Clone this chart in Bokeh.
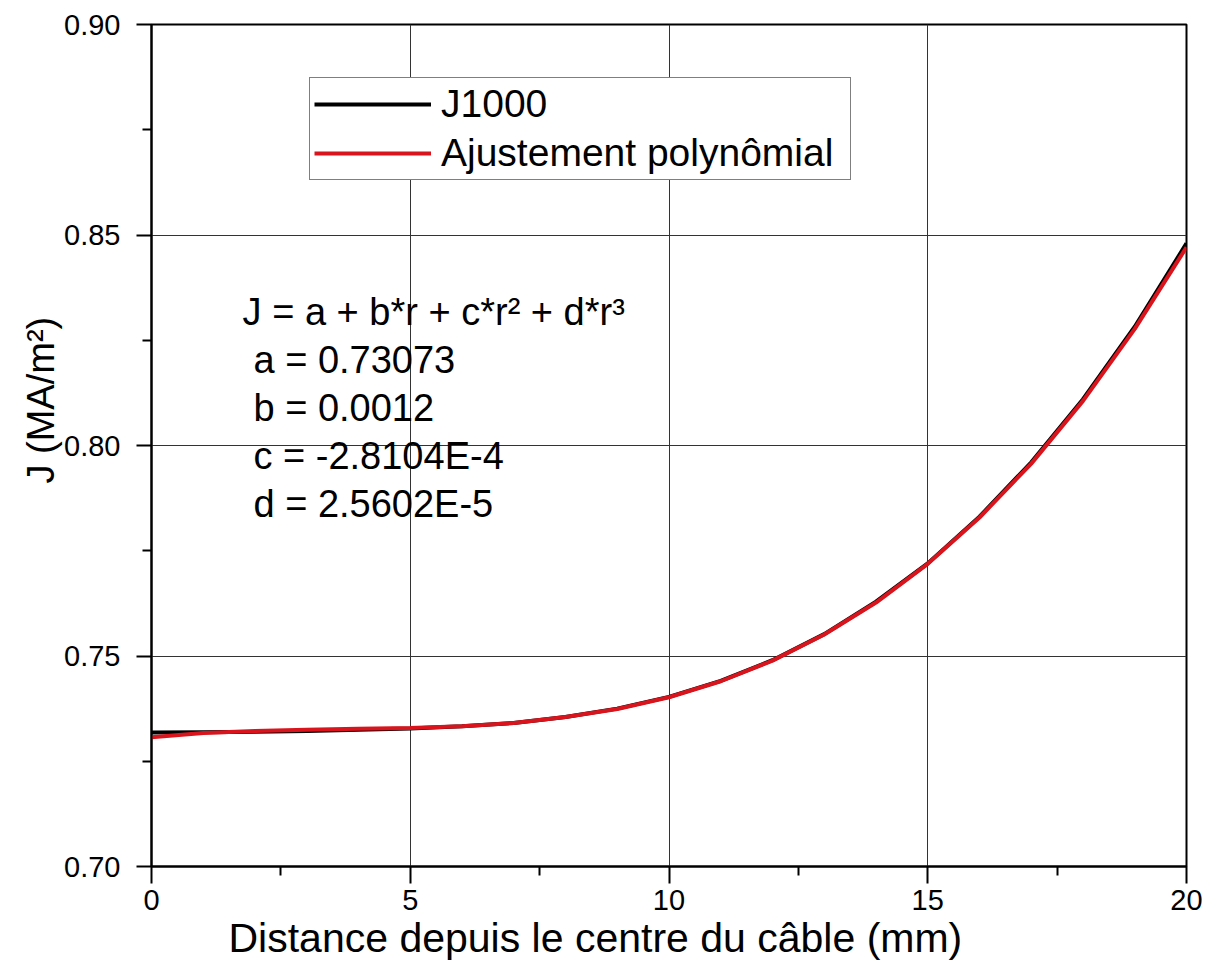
from bokeh.plotting import figure
from bokeh.models import (FixedTicker, NumeralTickFormatter, Legend, LegendItem,
                          Label, Title, Range1d)
from bokeh.embed import file_html
from bokeh.resources import INLINE

# ---------------- data ----------------
r_mm = [0, 1, 2, 3, 4, 5, 6, 7, 8, 9, 10, 11, 12, 13, 14, 15, 16, 17, 18, 19, 20]
j1000 = [0.7318, 0.7319, 0.7320, 0.7322, 0.7325, 0.7328, 0.7333, 0.7341, 0.7355, 0.7375,
         0.7403, 0.7441, 0.7490, 0.7552, 0.7629, 0.7720, 0.7831, 0.7960, 0.8110, 0.8282,
         0.8480]
j_fit = [0.7307, 0.7317, 0.7322, 0.7325, 0.7327, 0.7329, 0.7333, 0.7341, 0.7355, 0.7374,
         0.7402, 0.7440, 0.7489, 0.7551, 0.7627, 0.7719, 0.7829, 0.7957, 0.8106, 0.8277,
         0.8471]

x_ticks = [0, 5, 10, 15, 20]
x_minor = [2.5, 7.5, 12.5, 17.5]
y_ticks = [0.70, 0.75, 0.80, 0.85, 0.90]
y_minor = [0.725, 0.775, 0.825, 0.875]

series_labels = ["J1000", "Ajustement polynômial"]
fit_eq = "J = a + b*r + c*r² + d*r³"
fit_params = ["a = 0.73073", "b = 0.0012", "c = -2.8104E-4", "d = 2.5602E-5"]
x_title = "Distance depuis le centre du câble (mm)"
y_title = "J (MA/m²)"

FONT = "Liberation Sans"

# ---------------- figure ----------------
p = figure(width=1205, height=967,
           x_range=Range1d(0, 20), y_range=Range1d(0.70, 0.90),
           output_backend="svg", toolbar_location=None,
           min_border_left=151, min_border_right=19,
           min_border_top=24, min_border_bottom=101)
p.title.visible = False
p.background_fill_color = "white"
p.border_fill_color = "white"
p.outline_line_color = "black"
p.outline_line_width = 2

# tickers
p.xaxis.ticker = FixedTicker(ticks=x_ticks, minor_ticks=x_minor)
p.yaxis.ticker = FixedTicker(ticks=y_ticks, minor_ticks=y_minor)
p.xgrid.ticker = FixedTicker(ticks=x_ticks)
p.ygrid.ticker = FixedTicker(ticks=y_ticks)
p.xaxis.formatter = NumeralTickFormatter(format="0")
p.yaxis.formatter = NumeralTickFormatter(format="0.00")

for ax in (p.xaxis, p.yaxis):
    ax.axis_line_color = "black"
    ax.axis_line_width = 2
    ax.major_tick_line_color = "black"
    ax.major_tick_line_width = 2
    ax.minor_tick_line_color = "black"
    ax.minor_tick_line_width = 2
    ax.major_tick_in = 0
    ax.minor_tick_in = 0
    ax.minor_tick_out = 9
    ax.major_label_text_font = FONT
    ax.major_label_text_font_size = "29px"
    ax.major_label_text_color = "black"
p.xaxis.major_tick_out = 17
p.yaxis.major_tick_out = 15
p.xaxis.major_label_standoff = 6
p.yaxis.major_label_standoff = 16

p.grid.grid_line_color = "#333333"
p.grid.grid_line_width = 1

# ---------------- series ----------------
black = p.line(r_mm, j1000, line_color="black", line_width=4)
red = p.line(r_mm, j_fit, line_color="#d9141c", line_width=4)

legend = Legend(items=[LegendItem(label=series_labels[0], renderers=[black]),
                       LegendItem(label=series_labels[1], renderers=[red])],
                location=(158, 686), orientation="vertical",
                padding=4, spacing=5, margin=0,
                glyph_width=117, glyph_height=20, label_standoff=10, label_width=405,
                label_text_font=FONT, label_text_font_size="39px",
                label_text_color="black",
                border_line_color="black", border_line_width=1,
                background_fill_color="white", background_fill_alpha=1.0)
p.add_layout(legend)

# ---------------- fit annotation ----------------
p.add_layout(Label(x=1.76, y=0.8316, text=fit_eq, text_font=FONT,
                   text_font_size="38px", text_baseline="alphabetic", text_color="black"))
param_y = [0.8202, 0.8088, 0.7976, 0.7862]
for txt, yy in zip(fit_params, param_y):
    p.add_layout(Label(x=1.97, y=yy, text=txt, text_font=FONT,
                       text_font_size="38px", text_baseline="alphabetic",
                       text_color="black"))

# ---------------- axis titles ----------------
p.add_layout(Title(text=x_title, align="left", offset=77, text_font=FONT,
                   text_font_size="41px", text_font_style="normal",
                   text_color="black", standoff=0, vertical_align="bottom"), "below")
p.add_layout(Title(text=y_title, align="left", offset=383, text_font=FONT,
                   text_font_size="38px", text_font_style="normal",
                   text_color="black", standoff=0, vertical_align="bottom"), "left")

open("out.html", "w").write(file_html(p, INLINE))
